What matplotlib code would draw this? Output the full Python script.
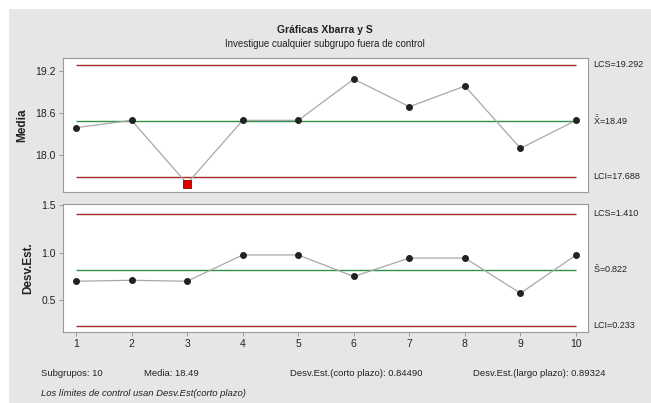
import matplotlib
matplotlib.use("Agg")
import matplotlib.pyplot as plt
from matplotlib.patches import Rectangle

plt.rcParams['font.family'] = ['Liberation Sans Narrow', 'Liberation Sans', 'DejaVu Sans']
plt.rcParams['mathtext.default'] = 'regular'

# Subgroup data
subgroups = [1, 2, 3, 4, 5, 6, 7, 8, 9, 10]
means = [18.39, 18.495, 17.59, 18.495, 18.495, 19.085, 18.69, 18.985, 18.095, 18.495]
stdevs = [0.70, 0.71, 0.70, 0.976, 0.976, 0.75, 0.944, 0.944, 0.574, 0.976]

# Control limits
xbar_lcs, xbar_center, xbar_lci = 19.292, 18.49, 17.688
s_lcs, s_center, s_lci = 1.410, 0.822, 0.233

W, H = 651, 403
fig = plt.figure(figsize=(W / 100, H / 100), dpi=100, facecolor='white')

BG = '#e6e6e6'
fig.patches.append(Rectangle((9 / W, 0), 1 - 9 / W, 1 - 9 / H, transform=fig.transFigure,
                             facecolor=BG, edgecolor='none', zorder=-10))

LIM_COLOR = '#a32a2a'
CEN_COLOR = '#2f8f46'
LINE_COLOR = '#a8a8a8'
EDGE = '#9a9a9a'
TXT = '#222222'


def px_axes(left, top, right, bottom):
    return fig.add_axes([left / W, 1 - bottom / H, (right - left) / W, (bottom - top) / H])


ax1 = px_axes(63, 58, 588, 192)
ax2 = px_axes(63, 204, 588, 331.7)

for ax in (ax1, ax2):
    ax.set_facecolor('white')
    for sp in ax.spines.values():
        sp.set_color(EDGE)
        sp.set_linewidth(0.8)
    ax.set_xlim(0.767, 10.215)
    ax.tick_params(axis='both', colors=EDGE, labelcolor=TXT, labelsize=7.5,
                   length=3, width=0.7, direction='out', pad=2)

# X-bar chart
ax1.set_ylim(17.471, 19.386)
ax1.set_yticks([18.0, 18.6, 19.2])
ax1.set_yticklabels(['18.0', '18.6', '19.2'])
ax1.set_xticks([])
for y, c in ((xbar_lcs, LIM_COLOR), (xbar_center, CEN_COLOR), (xbar_lci, LIM_COLOR)):
    ax1.hlines(y, subgroups[0], subgroups[-1], color=c, linewidth=1.0, zorder=2)
ax1.plot(subgroups, means, color=LINE_COLOR, linewidth=0.9, zorder=3)
ok = [(x, m) for x, m in zip(subgroups, means) if xbar_lci <= m <= xbar_lcs]
bad = [(x, m) for x, m in zip(subgroups, means) if not (xbar_lci <= m <= xbar_lcs)]
ax1.plot([p[0] for p in ok], [p[1] for p in ok], 'o', color=TXT, markersize=4, zorder=4)
ax1.plot([p[0] for p in bad], [p[1] for p in bad], 's', color='#e00000',
         markeredgecolor='#8a0000', markeredgewidth=0.6, markersize=5.5, zorder=4)
ax1.set_ylabel('Media', fontsize=8.5, fontweight='bold', color=TXT)
ax1.yaxis.set_label_coords(-0.066, 0.5)

# S chart
ax2.set_ylim(0.170, 1.5115)
ax2.set_yticks([0.5, 1.0, 1.5])
ax2.set_yticklabels(['0.5', '1.0', '1.5'])
ax2.set_xticks(subgroups)
ax2.set_xticklabels([str(s) for s in subgroups])
for y, c in ((s_lcs, LIM_COLOR), (s_center, CEN_COLOR), (s_lci, LIM_COLOR)):
    ax2.hlines(y, subgroups[0], subgroups[-1], color=c, linewidth=1.0, zorder=2)
ax2.plot(subgroups, stdevs, color=LINE_COLOR, linewidth=0.9, zorder=3)
ax2.plot(subgroups, stdevs, 'o', color=TXT, markersize=4, zorder=4)
ax2.set_ylabel('Desv.Est.', fontsize=8.5, fontweight='bold', color=TXT)
ax2.yaxis.set_label_coords(-0.055, 0.5)

# Limit labels on the right
lab_kw = dict(fontsize=6.5, color=TXT, va='center', ha='left')
tr1 = ax1.get_yaxis_transform()
tr2 = ax2.get_yaxis_transform()
xr = (593 - 63) / 525
ax1.text(xr, xbar_lcs, f'LCS={xbar_lcs:.3f}', transform=tr1, **lab_kw)
ax1.text(xr, xbar_center, r'$\bar{\bar{X}}$' + f'={xbar_center:.2f}', transform=tr1, **lab_kw)
ax1.text(xr, xbar_lci, f'LCI={xbar_lci:.3f}', transform=tr1, **lab_kw)
ax2.text(xr, s_lcs, f'LCS={s_lcs:.3f}', transform=tr2, **lab_kw)
ax2.text(xr, s_center, r'$\bar{S}$' + f'={s_center:.3f}', transform=tr2, **lab_kw)
ax2.text(xr, s_lci, f'LCI={s_lci:.3f}', transform=tr2, **lab_kw)

# Titles
fig.text(325 / W, 1 - 30 / H, 'Gráficas Xbarra y S', ha='center', va='center',
         fontsize=7.5, fontweight='bold', color=TXT)
fig.text(325 / W, 1 - 44 / H, 'Investigue cualquier subgrupo fuera de control', ha='center',
         va='center', fontsize=7, color=TXT)

# Footer statistics
foot_kw = dict(fontsize=6.8, color=TXT, va='center', ha='left')
fig.text(41 / W, 1 - 373 / H, 'Subgrupos: 10', **foot_kw)
fig.text(144 / W, 1 - 373 / H, 'Media: 18.49', **foot_kw)
fig.text(290 / W, 1 - 373 / H, 'Desv.Est.(corto plazo): 0.84490', **foot_kw)
fig.text(473 / W, 1 - 373 / H, 'Desv.Est.(largo plazo): 0.89324', **foot_kw)
fig.text(41 / W, 1 - 394 / H, 'Los límites de control usan Desv.Est(corto plazo)',
         fontstyle='italic', **foot_kw)

fig.savefig('out.png', dpi=100, facecolor='white')
